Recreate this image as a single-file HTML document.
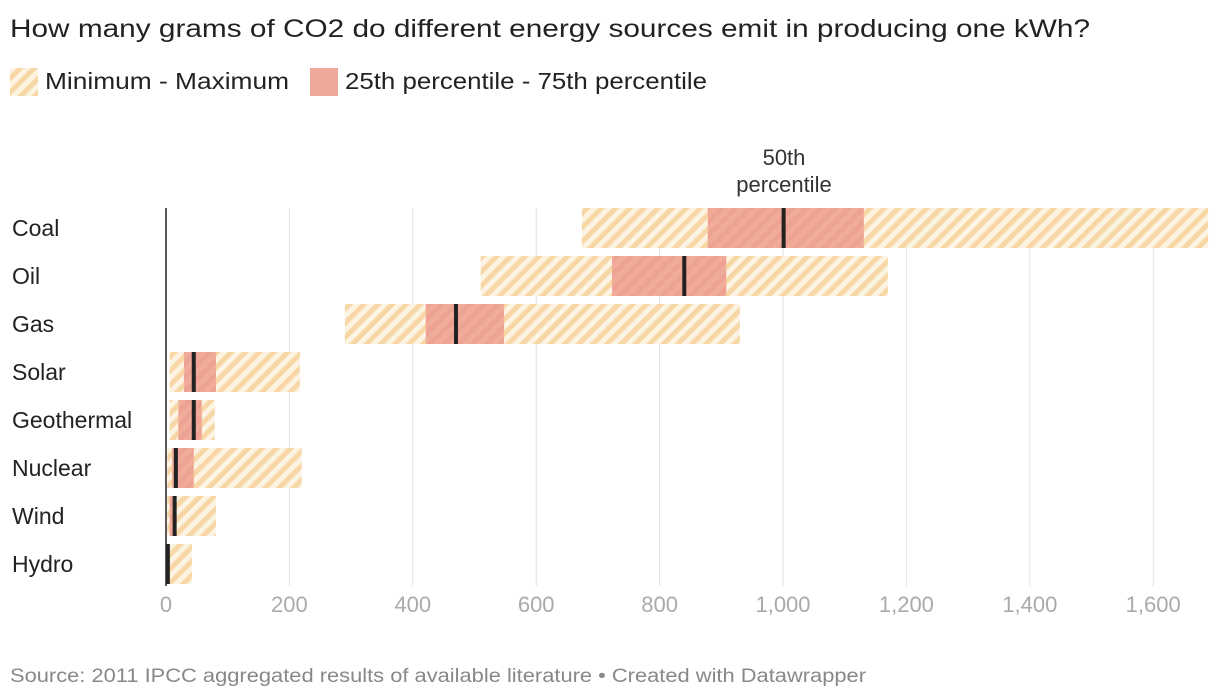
<!DOCTYPE html>
<html><head><meta charset="utf-8"><style>
body{margin:0;width:1220px;height:698px;background:#fff;font-family:"Liberation Sans",sans-serif;overflow:hidden}
</style></head><body>
<svg width="1220" height="698" style="position:absolute;left:0;top:0">
<defs>
<pattern id="hatch" patternUnits="userSpaceOnUse" width="10" height="10" patternTransform="rotate(45)">
<rect width="10" height="10" fill="#fdf3e3"/><rect width="5" height="10" fill="#f7d7a6"/></pattern>
<pattern id="hatch2" patternUnits="userSpaceOnUse" width="10" height="10" patternTransform="rotate(45)">
<rect width="10" height="10" fill="#eea294"/><rect width="5" height="10" fill="#f1ab99"/></pattern>
</defs>
<text x="10" y="37" font-size="25" fill="#222" textLength="1080" lengthAdjust="spacingAndGlyphs">How many grams of CO2 do different energy sources emit in producing one kWh?</text>
<g><rect x="10" y="68" width="28" height="28" fill="url(#hatch)"/><text x="45" y="89" font-size="23" fill="#222" textLength="244" lengthAdjust="spacingAndGlyphs">Minimum - Maximum</text></g>
<g><rect x="310" y="68" width="28" height="28" fill="#efa89a"/><text x="345" y="89" font-size="23" fill="#222" textLength="362" lengthAdjust="spacingAndGlyphs">25th percentile - 75th percentile</text></g>
<g id="grid"></g><g id="bars"></g>
<text x="784" y="165" font-size="22" fill="#333" text-anchor="middle"><tspan x="784">50th</tspan><tspan x="784" dy="27">percentile</tspan></text>
<text x="10" y="682" font-size="19" fill="#888" textLength="856" lengthAdjust="spacingAndGlyphs">Source: 2011 IPCC aggregated results of available literature  • Created with Datawrapper</text>
</svg>
<script>
const categories=["Coal","Oil","Gas","Solar","Geothermal","Nuclear","Wind","Hydro"];
const minVals=[674,510,290,6,6,2,2,2];
const maxVals=[1689,1170,930,217,79,220,81,42];
const p25Vals=[878,723,421,29,20,10,6,2];
const p75Vals=[1131,908,548,81,58,45,16,4];
const medVals=[1001,840,470,45,45,16,14,3];
const ticks=[0,200,400,600,800,1000,1200,1400,1600];
const tickLabels=["0","200","400","600","800","1,000","1,200","1,400","1,600"];
const NS="http://www.w3.org/2000/svg";
const x=v=>166+v*0.617;
const y=i=>228+i*48;
function mk(t,a,p){const e=document.createElementNS(NS,t);for(const k in a)e.setAttribute(k,a[k]);p.appendChild(e);return e;}
const g=document.getElementById('grid'),b=document.getElementById('bars');
ticks.forEach((t,i)=>{
 if(t>0){const l=mk('line',{x1:x(t),x2:x(t),y1:208,y2:586,stroke:'#e2e2e2','stroke-width':1},g);
 
 }
 const tx=mk('text',{x:x(t),y:612,'font-size':22,fill:'#aaa','text-anchor':'middle'},g);tx.textContent=tickLabels[i];
 
 
});
categories.forEach((c,i)=>{
 const lb=mk('text',{x:12,y:y(i)+8,'font-size':23,fill:'#222'},b);lb.textContent=c;
 
 
 const r=mk('rect',{x:x(minVals[i]),y:y(i)-20,width:x(maxVals[i])-x(minVals[i]),height:40,fill:'url(#hatch)'},b);
 
 
 const q=mk('rect',{x:x(p25Vals[i]),y:y(i)-20,width:x(p75Vals[i])-x(p25Vals[i]),height:40,fill:'url(#hatch2)'},b);
 
 
 const m=mk('rect',{x:x(medVals[i])-2,y:y(i)-20,width:4,height:40,fill:'#222'},b);
 
 
});
const z=mk('line',{x1:x(0),x2:x(0),y1:208,y2:586,stroke:'#222','stroke-width':1.5},b);


</script>
</body></html>
